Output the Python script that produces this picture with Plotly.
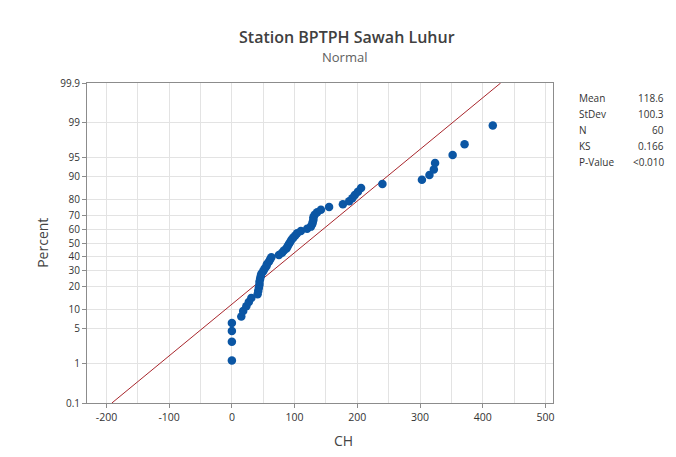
import plotly.graph_objects as go
from statistics import NormalDist

# ---- data ----
ch_values = [0, 0, 0, 0, 15, 18, 23, 27, 31, 41, 42, 43, 44, 44, 45, 46, 47, 50, 52, 55,
             56, 59, 61, 63, 75, 80, 83, 87, 89, 91, 93, 95, 98, 101, 104, 110, 120, 126, 128, 129,
             130, 130, 132, 136, 142, 155, 177, 187, 192, 196, 201, 206, 240, 303, 315, 322, 324, 352, 371, 416]
stat_labels = ["Mean", "StDev", "N", "KS", "P-Value"]
stat_values = ["118.6", "100.3", "60", "0.166", "<0.010"]
fit_mean = 118.6
fit_sd = 100.3
pct_ticks = [0.1, 1, 5, 10, 20, 30, 40, 50, 60, 70, 80, 90, 95, 99, 99.9]
x_ticks = [-200, -100, 0, 100, 200, 300, 400, 500]

nd = NormalDist()
xs = sorted(ch_values)
n = len(xs)
zs = [nd.inv_cdf((i + 1 - 0.3) / (n + 0.4)) for i in range(n)]

z_lo = nd.inv_cdf(0.001)
z_hi = nd.inv_cdf(0.999)
line_z = [z_lo, z_hi]
line_x = [fit_mean + fit_sd * z for z in line_z]

FONT = "Open Sans"
fig = go.Figure()
fig.add_trace(go.Scatter(x=line_x, y=line_z, mode="lines",
                         line=dict(color="#a8262c", width=1), hoverinfo="skip"))
fig.add_trace(go.Scatter(x=xs, y=zs, mode="markers",
                         marker=dict(color="#0b56a4", size=8.5, line=dict(width=0))))

fig.update_layout(
    width=676, height=457,
    margin=dict(l=87, r=123, t=83, b=54),
    paper_bgcolor="white", plot_bgcolor="white",
    showlegend=False,
    font=dict(family=FONT, color="#333333", size=10),
)
fig.update_xaxes(
    range=[-231, 512], tickvals=x_ticks, ticktext=[str(v) for v in x_ticks],
    showgrid=True, gridcolor="#e3e3e3", gridwidth=1,
    minor=dict(dtick=50, tick0=0, showgrid=True, gridcolor="#e3e3e3", ticklen=0),
    showline=True, linecolor="#8c8c8c", linewidth=1, mirror=True,
    ticks="outside", ticklen=4, tickcolor="#8c8c8c",
    zeroline=False, tickfont=dict(size=10.5, color="#333333"),
)
fig.update_yaxes(
    range=[z_lo, z_hi], tickvals=[nd.inv_cdf(p / 100) for p in pct_ticks],
    ticktext=[("%g" % p) for p in pct_ticks],
    showgrid=True, gridcolor="#e3e3e3", gridwidth=1,
    showline=True, linecolor="#8c8c8c", linewidth=1, mirror=True,
    ticks="outside", ticklen=4, tickcolor="#8c8c8c",
    zeroline=False, tickfont=dict(size=10, color="#333333"),
)

ann = []
ann.append(dict(text="Station BPTPH Sawah Luhur", xref="paper", yref="paper",
                x=0.558, y=1.144, xanchor="center", yanchor="middle", showarrow=False,
                font=dict(family=FONT, size=16, color="#404040", weight=600)))
ann.append(dict(text="Normal", xref="paper", yref="paper",
                x=0.552, y=1.081, xanchor="center", yanchor="middle", showarrow=False,
                font=dict(family=FONT, size=13, color="#606060")))
ann.append(dict(text="Percent", xref="paper", yref="paper", x=-0.097, y=0.5,
                xanchor="center", yanchor="middle", textangle=-90, showarrow=False,
                font=dict(family=FONT, size=14, color="#444444")))
ann.append(dict(text="CH", xref="paper", yref="paper", x=0.5515, y=-0.116,
                xanchor="center", yanchor="middle", showarrow=False,
                font=dict(family=FONT, size=14, color="#444444")))
row_px = [98, 114, 130, 146, 162]
for lab, val, py in zip(stat_labels, stat_values, row_px):
    yp = (403 - py) / 320
    ann.append(dict(text=lab, xref="paper", yref="paper", x=(577 - 87) / 466, y=yp,
                    xanchor="left", yanchor="middle", showarrow=False,
                    font=dict(family=FONT, size=10, color="#333333")))
    ann.append(dict(text=val, xref="paper", yref="paper", x=(666 - 87) / 466, y=yp,
                    xanchor="right", yanchor="middle", showarrow=False,
                    font=dict(family=FONT, size=10, color="#333333")))
fig.update_layout(annotations=ann)

fig.write_html("out.html")
